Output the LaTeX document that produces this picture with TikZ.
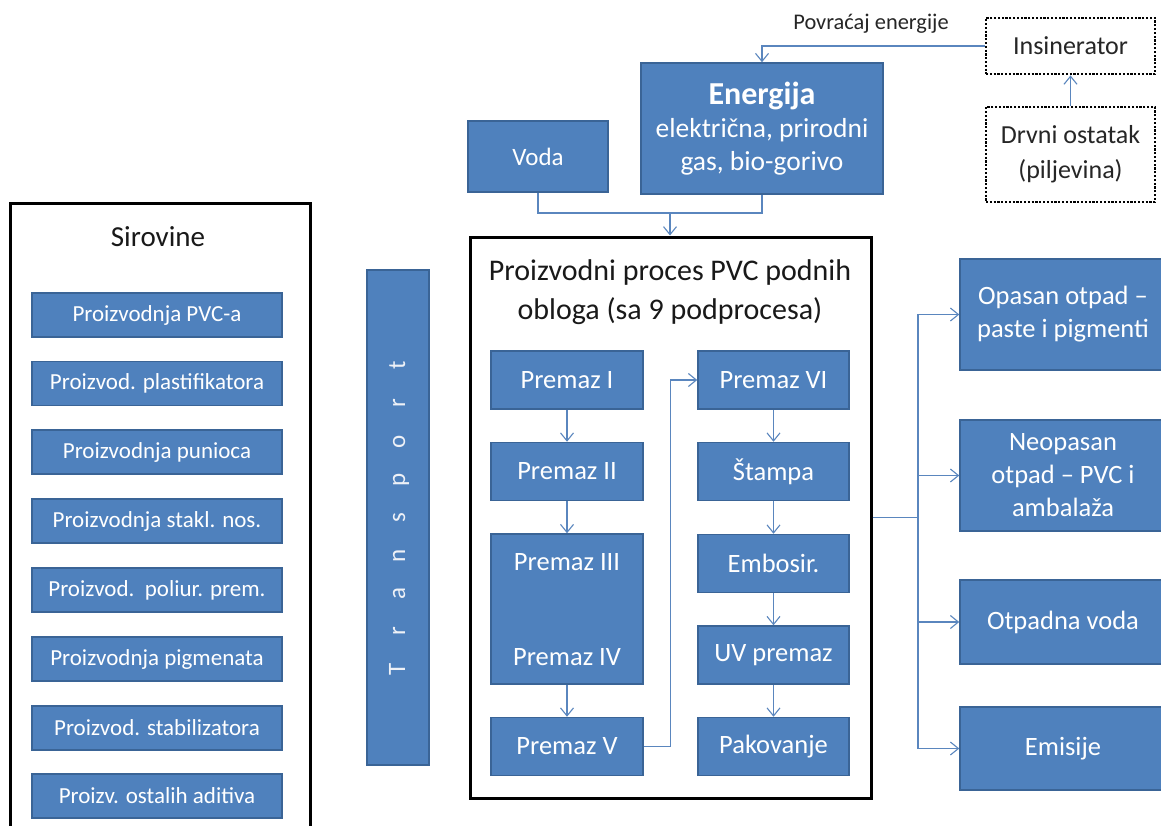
\documentclass[tikz,border=0pt]{standalone}
\usepackage{fontspec}
\setmainfont{Carlito}
\usetikzlibrary{arrows.meta,backgrounds,calc}
\definecolor{bfill}{HTML}{4F81BD}
\definecolor{bline}{HTML}{3A6496}
\definecolor{cline}{HTML}{5A86BE}
\definecolor{tlight}{HTML}{EEF1F7}
\begin{document}
\begin{tikzpicture}[x=1pt,y=-1pt,
 bx/.style={rectangle, fill=bfill, draw=bline, line width=1.5pt, text=white, align=center, inner sep=0pt},
 cnt/.style={rectangle, draw=black, line width=3pt, inner sep=0pt},
 dotbox/.style={rectangle, draw=black, line width=2.8pt, dash pattern=on 2.2pt off 1.6pt, inner sep=0pt, align=center, text=black!85, font=\fontsize{26}{35}\selectfont},
 ln/.style={draw=cline, line width=1.1pt},
 conn/.style={ln, -{Straight Barb[length=8pt,width=13pt,line width=1.1pt]}},
 sirbox/.style={bx, minimum width=250pt, minimum height=44pt, font=\fontsize{23}{27}\selectfont},
 pbox/.style={bx, minimum width=152pt, minimum height=58pt, font=\fontsize{26.5}{30}\selectfont},
 rbox/.style={bx, minimum width=206pt, font=\fontsize{26.5}{33}\selectfont},
 ttl/.style={align=center, text=black!90}
]
\clip (0,0) rectangle (1161,825);
\fill[white] (0,0) rectangle (1161,825);

% Sirovine container
\node[cnt, minimum width=300pt, minimum height=630pt, anchor=north west] (sir) at (9,202) {};
\node[ttl, font=\fontsize{29}{34}\selectfont] (sirt) at (158,237) {Sirovine};
\node[sirbox] (s1) at (157,315) {Proizvodnja PVC-a};
\node[sirbox] (s2) at (157,383.5) {Proizvod. plastifikatora};
\node[sirbox] (s3) at (157,452) {Proizvodnja punioca};
\node[sirbox] (s4) at (157,521) {Proizvodnja stakl. nos.};
\node[sirbox] (s5) at (157,590) {Proizvod.\ \ poliur. prem.};
\node[sirbox] (s6) at (157,659) {Proizvodnja pigmenata};
\node[sirbox] (s7) at (157,728) {Proizvod. stabilizatora};
\node[sirbox] (s8) at (157,796) {Proizv. ostalih aditiva};

% Process container
\node[cnt, minimum width=401pt, minimum height=561pt] (proc) at (670.5,517.5) {};
\node[ttl, font=\fontsize{30}{39}\selectfont] (proct) at (670,292.5) {Proizvodni proces PVC podnih\\obloga (sa 9 podprocesa)};

% Transport bar
\node[bx, minimum width=62pt, minimum height=495pt] (tr) at (398,517.5) {};
\node[rotate=90, text=tlight, font=\fontsize{25}{28}\selectfont, inner sep=0pt] (trt) at (399,517.5)
 {\makebox[38pt]{T}\makebox[38pt]{r}\makebox[38pt]{a}\makebox[38pt]{n}\makebox[38pt]{s}\makebox[38pt]{p}\makebox[38pt]{o}\makebox[38pt]{r}\makebox[38pt]{t}};

% Premaz boxes
\node[pbox] (p1) at (567,380) {Premaz I};
\node[pbox] (p2) at (567,471.5) {Premaz II};
\node[pbox, minimum height=150pt] (p34) at (567,609) {};
\node[text=white, font=\fontsize{26.5}{30}\selectfont] (p3t) at (567,562) {Premaz III};
\node[text=white, font=\fontsize{26.5}{30}\selectfont] (p4t) at (567,657) {Premaz IV};
\node[pbox] (p5) at (567,746.5) {Premaz V};
\node[pbox, minimum width=151pt] (p6) at (773.5,380) {Premaz VI};
\node[pbox, minimum width=151pt] (st) at (773.5,471.5) {Štampa};
\node[pbox, minimum width=151pt] (emb) at (773.5,563.5) {Embosir.};
\node[pbox, minimum width=151pt] (uv) at (773.5,655) {UV premaz};
\node[pbox, minimum width=151pt] (pak) at (773.5,746.5) {Pakovanje};

% Output boxes
\node[rbox, minimum height=111pt] (o1) at (1063,314.5) {Opasan otpad --\\paste i pigmenti};
\node[rbox, minimum height=111pt] (o2) at (1063,475.5) {Neopasan\\otpad -- PVC i\\ambalaža};
\node[rbox, minimum height=84pt] (o3) at (1063,622) {Otpadna voda};
\node[rbox, minimum height=83pt] (o4) at (1063,748.5) {Emisije};

% Inputs
\node[bx, minimum width=140pt, minimum height=71pt, font=\fontsize{25}{30}\selectfont] (voda) at (538,156.5) {Voda};
\node[bx, minimum width=242pt, minimum height=131pt, font=\fontsize{27.5}{33}\selectfont] (energ) at (762,128.5)
 {{\bfseries\fontsize{32}{34}\selectfont Energija}\\električna, prirodni\\gas, bio-gorivo};
\node[dotbox, minimum width=169pt, minimum height=56pt] (ins) at (1070.5,46) {Insinerator};
\node[dotbox, minimum width=169pt, minimum height=95pt] (drv) at (1070.5,154.5) {Drvni ostatak\\(piljevina)};
\node[text=black!85, font=\fontsize{22.4}{25}\selectfont] (povt) at (871,24) {Povraćaj energije};

% Connectors
\begin{scope}[on background layer]
 \draw[conn] (sir.east) -- (proc.west);
\end{scope}
\coordinate (vj) at (670,213);
\draw[ln] (voda.south) |- (vj);
\draw[ln] (energ.south) |- (vj);
\draw[conn] (vj) -- (vj |- proc.north);
\draw[conn] (ins.west) -| (energ.north);
\draw[conn] (drv.north) -- (ins.south);

\draw[conn] (p1) -- (p2);
\draw[conn] (p2) -- (p34);
\draw[conn] (p34) -- (p5);
\draw[conn] (p5.east) -- ++(27,0) |- (p6.west);
\draw[conn] (p6) -- (st);
\draw[conn] (st) -- (emb);
\draw[conn] (emb) -- (uv);
\draw[conn] (uv) -- (pak);

\coordinate (br) at (918,517.5);
\draw[ln] (proc.east) -- (br);
\draw[conn] (br) |- (o1.west);
\draw[conn] (br) |- (o2.west);
\draw[conn] (br) |- (o3.west);
\draw[conn] (br) |- (o4.west);
\end{tikzpicture}
\end{document}
